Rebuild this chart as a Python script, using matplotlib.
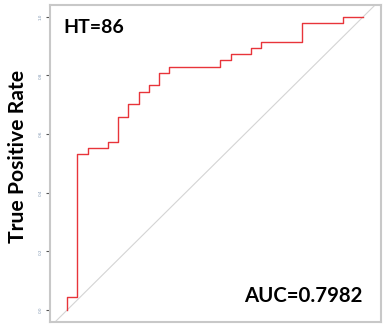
import matplotlib
matplotlib.use("Agg")
import matplotlib.pyplot as plt
import numpy as np

# ROC curve corners, counted in negatives (x) and positives (y)
n_neg = 29
n_pos = 47
fp_counts = [0, 0, 1, 2, 4, 5, 6, 7, 8, 9, 10, 15, 16, 18, 19, 23, 27, 29]
tp_counts = [0, 2, 25, 26, 27, 31, 33, 35, 36, 38, 39, 40, 41, 42, 43, 46, 47, 47]
y_ticks = [0.0, 0.2, 0.4, 0.6, 0.8, 1.0]
title_text = "HT=86"
auc_text = "AUC=0.7982"

fpr = np.array(fp_counts) / n_neg
tpr = np.array(tp_counts) / n_pos

fig = plt.figure(figsize=(3.86, 3.25), dpi=100)
ax = fig.add_axes([50 / 386, 3.3 / 325, 331 / 386, 316.7 / 325])

ax.axline((0, 0), (1, 1), color="#d4d4d4", lw=0.8, zorder=1)
ax.step(fpr, tpr, where="post", color="#e8343a", lw=1.0, zorder=2)

ax.set_xlim(-0.058, 1.06)
ax.set_ylim(-0.04, 1.04)
ax.set_xticks([])
ax.set_yticks(y_ticks)
ax.set_yticklabels([f"{t:.1f}" for t in y_ticks], rotation=90, va="center",
                   fontsize=3, color="#7f95b0")
ax.tick_params(axis="y", length=3, width=0.8, color="#555555", pad=2.5)
for s in ax.spines.values():
    s.set_color("#c8c8c8")
    s.set_linewidth(1.5)

font = ["Lato", "DejaVu Sans"]
fig.text(63.5 / 386, (325 - 33.3) / 325, title_text, fontsize=14,
         fontweight="bold", family=font, ha="left", va="baseline")
fig.text(363 / 386, (325 - 301.7) / 325, auc_text, fontsize=14.7,
         fontweight="bold", family=font, ha="right", va="baseline")
fig.text(18 / 386, (325 - 156.5) / 325, "True Positive Rate", fontsize=15.2,
         fontweight="bold", family=font, rotation=90, ha="center", va="center")

fig.savefig("out.png", dpi=100)
